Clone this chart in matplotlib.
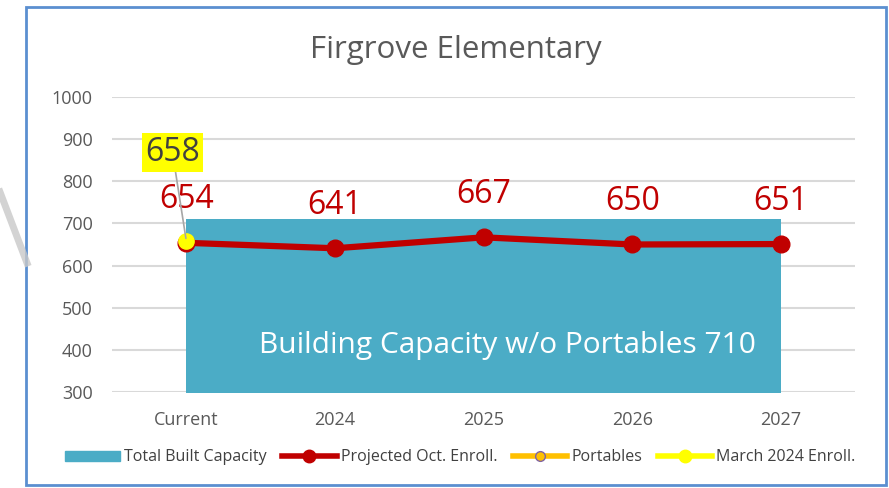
import matplotlib.pyplot as plt
import matplotlib.lines as mlines
import matplotlib.patches as mpatches
import numpy as np

plt.rcParams['font.family'] = ['Open Sans', 'DejaVu Sans']

categories = ['Current', '2024', '2025', '2026', '2027']
capacity = [710, 710, 710, 710, 710]
projected = [654, 641, 667, 650, 651]
march_enroll = [658]
yticks = [300, 400, 500, 600, 700, 800, 900, 1000]

x = np.arange(len(categories))

fig = plt.figure(figsize=(8.89, 4.88), dpi=100)
ax = fig.add_axes([0.126, 0.197, 0.836, 0.604])

# capacity area
ax.fill_between(x, capacity, 0, color='#4BACC6', zorder=2, linewidth=0)
ax.text(2.16, 411, 'Building Capacity w/o Portables 710', color='white',
        fontsize=21.5, ha='center', va='center', zorder=3)

# projected enrollment
ax.plot(x, projected, color='#C00000', lw=4.5, marker='o', ms=12, zorder=4)
for xi, v in zip(x, projected):
    ax.annotate(str(v), (xi, v), xytext=(0, 31), textcoords='offset points',
                ha='center', va='center', fontsize=23, color='#C00000', zorder=5)

# march enrollment
ax.plot(x[:1], march_enroll, color='yellow', marker='o', ms=11, ls='none',
        zorder=6)
ax.annotate(str(march_enroll[0]), (x[0], march_enroll[0]), xytext=(-10, 64),
            textcoords='offset points', ha='center', va='center', fontsize=23,
            color='#404040', zorder=6,
            bbox=dict(boxstyle='square,pad=0.1', fc='yellow', ec='none'),
            arrowprops=dict(arrowstyle='-', color='#A6A6A6', lw=1.2,
                            shrinkA=0, shrinkB=2))

ax.set_xlim(-0.5, len(categories) - 0.5)
ax.set_ylim(300, 1000)
ax.set_yticks(yticks)
ax.set_xticks(x)
ax.set_xticklabels(categories)
ax.grid(axis='y', color='#D9D9D9', lw=1.5, zorder=1)
ax.set_axisbelow(True)
for s in ax.spines.values():
    s.set_visible(False)
ax.tick_params(length=0, labelsize=13, labelcolor='#595959')
ax.tick_params(axis='y', pad=14)
ax.tick_params(axis='x', pad=14)

fig.text(0.513, 0.898, 'Firgrove Elementary', ha='center', va='center',
         fontsize=22.5, color='#595959')

handles = [
    mpatches.Patch(color='#4BACC6', label='Total Built Capacity'),
    mlines.Line2D([], [], color='#C00000', lw=4, marker='o', ms=9,
                  label='Projected Oct. Enroll.'),
    mlines.Line2D([], [], color='#FFC000', lw=4, marker='o', ms=7,
                  mfc='#FFC000', mec='#8064A2', label='Portables'),
    mlines.Line2D([], [], color='yellow', lw=4, marker='o', ms=9,
                  label='March 2024 Enroll.'),
]
fig.legend(handles=handles, loc='center', bbox_to_anchor=(0.518, 0.063),
           ncol=4, frameon=False, fontsize=11.5, labelcolor='#404040',
           handlelength=3.4, handleheight=0.6, handletextpad=0.25,
           columnspacing=1.0)

# frame around the chart
fig.add_artist(mpatches.Rectangle((26 / 889, 3 / 488), 860 / 889, 478 / 488,
                                  transform=fig.transFigure, fill=False,
                                  ec='#5B8FD0', lw=2))
# grey stroke at the left edge
fig.add_artist(mlines.Line2D([0, 27 / 889], [1 - 192 / 488, 1 - 263 / 488],
                             transform=fig.transFigure, color='#C8C8C8',
                             lw=5, alpha=0.8))

fig.savefig('out.png', dpi=100)
